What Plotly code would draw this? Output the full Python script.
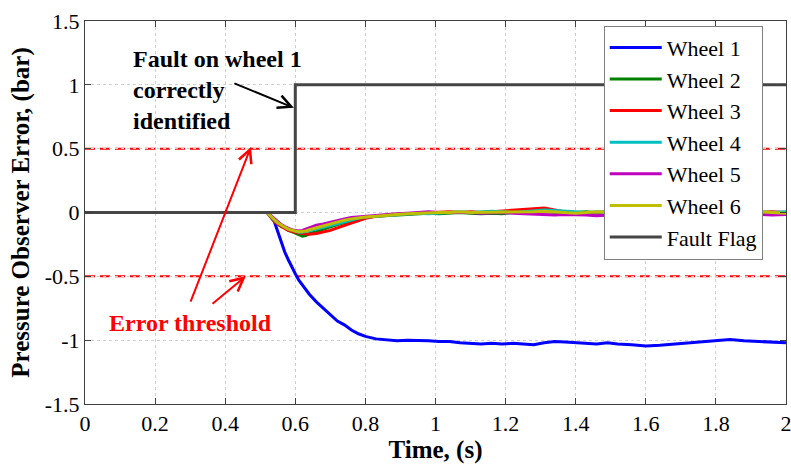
import plotly.graph_objects as go

# ---------------- data ----------------
time_s = [0.52, 0.53, 0.54, 0.55, 0.56, 0.57, 0.58, 0.59, 0.60, 0.61, 0.62, 0.63, 0.64,
          0.66, 0.68, 0.70, 0.72, 0.74, 0.76, 0.78, 0.80,
          0.83, 0.86, 0.89, 0.92, 0.95, 0.98, 1.01, 1.04, 1.07, 1.10, 1.13, 1.16, 1.19,
          1.22, 1.25, 1.28, 1.31, 1.34, 1.37, 1.40, 1.43, 1.46, 1.49,
          1.52, 1.56, 1.60, 1.64, 1.68, 1.72, 1.76, 1.80, 1.84, 1.88, 1.92, 1.96, 2.00]

wheel1 = [0.0, -0.03, -0.07, -0.15, -0.24, -0.31, -0.37, -0.43, -0.48, -0.53, -0.57, -0.61, -0.64,
          -0.70, -0.75, -0.80, -0.85, -0.88, -0.92, -0.95, -0.97,
          -0.99, -1.00, -1.005, -1.00, -1.00, -1.005, -1.01, -1.01, -1.02, -1.025, -1.03, -1.025, -1.03,
          -1.025, -1.03, -1.035, -1.02, -1.01, -1.015, -1.02, -1.025, -1.03, -1.02,
          -1.03, -1.035, -1.045, -1.04, -1.03, -1.02, -1.01, -1.005, -0.995, -1.005, -1.01, -1.015, -1.02]

wheel2 = [0.0, -0.04, -0.07, -0.09, -0.11, -0.12, -0.14, -0.15, -0.16, -0.175, -0.185, -0.18, -0.165,
          -0.15, -0.13, -0.11, -0.095, -0.08, -0.065, -0.05, -0.04,
          -0.03, -0.025, -0.02, -0.015, -0.01, -0.005, -0.01, -0.005, 0.0, -0.005, -0.01, -0.005, -0.01,
          0.0, 0.005, 0.01, 0.01, 0.0, -0.005, 0.0, 0.005, -0.005, 0.0,
          0.0, 0.005, 0.0, -0.005, 0.0, 0.005, 0.0, -0.005, 0.0, 0.005, 0.0, -0.005, 0.0]

wheel3 = [0.0, -0.04, -0.07, -0.09, -0.11, -0.125, -0.14, -0.15, -0.155, -0.16, -0.165, -0.17, -0.17,
          -0.165, -0.155, -0.14, -0.12, -0.10, -0.08, -0.06, -0.045,
          -0.03, -0.02, -0.015, -0.01, -0.005, 0.0, 0.0, 0.005, 0.0, 0.005, 0.0, 0.005, 0.01,
          0.015, 0.02, 0.03, 0.035, 0.02, 0.005, 0.0, -0.005, 0.0, 0.005,
          0.0, 0.005, 0.0, 0.005, 0.01, 0.005, 0.0, 0.005, 0.0, -0.005, 0.0, 0.005, 0.0]

wheel4 = [0.0, -0.03, -0.06, -0.08, -0.10, -0.115, -0.13, -0.14, -0.15, -0.155, -0.155, -0.15, -0.145,
          -0.13, -0.115, -0.10, -0.085, -0.07, -0.055, -0.045, -0.035,
          -0.03, -0.025, -0.02, -0.01, -0.005, -0.01, -0.005, 0.0, 0.005, 0.0, 0.005, 0.01, 0.005,
          0.0, 0.005, 0.01, 0.02, 0.015, 0.01, 0.005, 0.0, 0.005, 0.0,
          0.005, 0.0, 0.005, 0.01, 0.005, 0.0, 0.005, 0.0, 0.005, 0.01, 0.005, 0.0, 0.005]

wheel5 = [0.0, -0.025, -0.05, -0.075, -0.095, -0.11, -0.125, -0.135, -0.14, -0.145, -0.14, -0.13, -0.12,
          -0.10, -0.09, -0.075, -0.06, -0.05, -0.04, -0.035, -0.03,
          -0.02, -0.015, -0.01, -0.005, 0.0, 0.005, 0.0, 0.0, 0.005, 0.0, -0.005, 0.0, 0.0,
          -0.005, -0.01, -0.015, -0.02, -0.02, -0.015, -0.015, -0.02, -0.025, -0.02,
          -0.015, -0.01, -0.015, -0.02, -0.015, -0.01, -0.015, -0.02, -0.015, -0.01, -0.015, -0.02, -0.015]

wheel6 = [0.0, -0.03, -0.055, -0.08, -0.10, -0.115, -0.13, -0.14, -0.145, -0.15, -0.15, -0.145, -0.135,
          -0.12, -0.10, -0.085, -0.07, -0.06, -0.05, -0.04, -0.035,
          -0.03, -0.02, -0.015, -0.01, -0.005, -0.005, 0.0, 0.0, 0.005, 0.0, 0.0, 0.005, 0.005,
          0.0, 0.0, 0.005, 0.01, 0.005, 0.0, -0.005, 0.0, 0.005, 0.0,
          -0.005, 0.0, 0.005, 0.0, -0.005, 0.0, 0.005, 0.0, -0.005, 0.0, 0.005, 0.0, -0.005]

flag_t = [0.0, 0.6, 2.0]
flag_v = [0.0, 1.0, 1.0]

thresholds = [0.5, -0.5]

series_names = ["Wheel 1", "Wheel 2", "Wheel 3", "Wheel 4", "Wheel 5", "Wheel 6"]
series_colors = ["#0000ff", "#008000", "#ff0000", "#00bfbf", "#bf00bf", "#bfbf00"]

x_ticks = [0, 0.2, 0.4, 0.6, 0.8, 1.0, 1.2, 1.4, 1.6, 1.8, 2.0]
x_labels = ["0", "0.2", "0.4", "0.6", "0.8", "1", "1.2", "1.4", "1.6", "1.8", "2"]
y_ticks = [-1.5, -1.0, -0.5, 0, 0.5, 1.0, 1.5]
y_labels = ["-1.5", "-1", "-0.5", "0", "0.5", "1", "1.5"]

# ---------------- figure ----------------
FONT = "Liberation Serif, Times New Roman, serif"
fig = go.Figure()

for name, vals, col in zip(series_names, [wheel1, wheel2, wheel3, wheel4, wheel5, wheel6], series_colors):
    fig.add_trace(go.Scatter(x=time_s, y=vals, mode="lines", name=name,
                             line=dict(color=col, width=3)))

fig.add_trace(go.Scatter(x=flag_t, y=flag_v, mode="lines", name="Fault Flag",
                         line=dict(color="#454545", width=3, shape="hv")))

for th in thresholds:
    fig.add_hline(y=th, line=dict(color="#ff0000", width=2, dash="10px,5px"), layer="below")

# text annotations
fig.add_annotation(x=0.131, y=0.96, xref="x", yref="y",
                   text="<b>Fault on wheel 1<br>correctly<br>identified</b>",
                   showarrow=False, xanchor="left", yanchor="middle", align="left",
                   font=dict(family=FONT, size=24, color="black"))
fig.add_annotation(x=0.30, y=-0.867, xref="x", yref="y",
                   text="<b>Error threshold</b>", showarrow=False,
                   xanchor="center", yanchor="middle",
                   font=dict(family=FONT, size=24, color="#ff0000"))

# arrows
arrows = [
    (0.596, 0.82, 0.422, 1.016, "black"),
    (0.4736, 0.514, 0.2996, -0.71, "#ff0000"),
    (0.459, -0.498, 0.3595, -0.725, "#ff0000"),
]
for hx, hy, tx, ty, col in arrows:
    fig.add_annotation(x=hx, y=hy, ax=tx, ay=ty, xref="x", yref="y", axref="x", ayref="y",
                       text="", showarrow=True, arrowhead=5, arrowsize=1.3,
                       arrowwidth=2, arrowcolor=col, standoff=0)

axis_common = dict(
    showline=True, linecolor="#404040", linewidth=1, mirror="ticks",
    ticks="inside", ticklen=6, tickcolor="#404040",
    showgrid=True, gridcolor="#cfcfcf", griddash="dot", gridwidth=1,
    zeroline=False, tickfont=dict(family=FONT, size=22, color="black"),
    automargin=False, ticklabeloverflow="allow",
)

fig.update_xaxes(range=[0, 2], tickvals=x_ticks, ticktext=x_labels,
                 title=dict(text="<b>Time, (s)</b>", font=dict(family=FONT, size=25, color="black"),
                            standoff=4),
                 **axis_common)
fig.update_yaxes(range=[-1.5, 1.5], tickvals=y_ticks, ticktext=y_labels,
                 title=dict(text="<b>Pressure Observer Error, (bar)</b>",
                            font=dict(family=FONT, size=25, color="black"), standoff=8),
                 **axis_common)

fig.update_layout(
    width=791, height=466,
    margin=dict(l=85, r=5, t=21, b=62),
    paper_bgcolor="white", plot_bgcolor="white",
    font=dict(family=FONT, size=22, color="black"),
    legend=dict(x=0.740, y=0.988, xanchor="left", yanchor="top",
                bgcolor="white", bordercolor="#808080", borderwidth=1,
                font=dict(family=FONT, size=22, color="black"),
                itemwidth=52, tracegroupgap=0),
    showlegend=True,
)

fig.write_html("out.html", config={"displayModeBar": False},
               post_script="document.body.style.margin='0px';")
